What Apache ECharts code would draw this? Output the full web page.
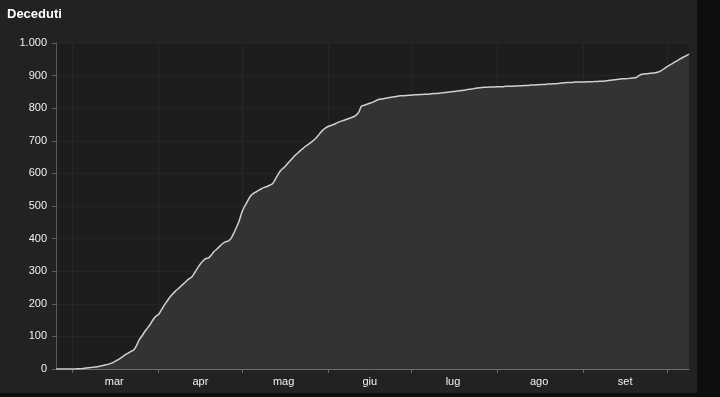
<!DOCTYPE html>
<html>
<head>
<meta charset="utf-8">
<script src="https://cdn.jsdelivr.net/npm/echarts@6/dist/echarts.min.js"></script>
<style>
html,body{margin:0;padding:0;background:#0e0e0e;}
#card{position:absolute;left:0;top:0;width:697px;height:393px;background:#222222;}
#chart{position:absolute;left:0;top:0;width:720px;height:397px;}
</style>
</head>
<body>
<div id="card"></div>
<div id="chart"></div>
<script>
const title = 'Deceduti';
const monthLabels = ['mar','apr','mag','giu','lug','ago','set'];
const startYear = 2020;
// daily cumulative deaths, starting 24 Feb 2020
const feb = [0,0,0,0,0,0];
const mar = [0,0,1,1,2,3,4,5,6,7,9,11,13,15,18,22,27,32,38,44,49,54,58,72,90,102,115,126,138,152,162];
const apr = [168,182,196,208,220,230,239,246,254,262,270,277,283,296,310,322,332,339,341,350,361,368,377,385,390,392,400,416,435,455];
const may = [482,500,515,530,538,543,548,553,557,560,564,568,582,597,610,617,626,636,645,654,662,670,677,684,690,696,703,712,722,732,739];
const jun = [744,747,750,754,758,761,764,767,770,773,778,787,806,809,812,815,818,822,826,828,829,831,833,834,835,837,838,838,839,840];
const jul = [840,841,841,842,842,843,843,844,845,845,846,847,848,849,850,851,852,853,854,855,857,858,859,861,862,863,864,864,865,865,865];
const aug = [866,866,866,867,867,867,868,868,869,869,870,870,871,871,872,872,873,873,874,874,875,875,876,877,878,879,879,879,880,880,880];
const sep = [880,881,881,881,882,882,883,883,884,885,886,887,888,889,890,890,891,892,893,894,900,904,905,906,907,908,909,911,915,921];
const oct = [927,932,937,942,947,952,957,961,966];

const monthly = [[2,24,feb],[3,1,mar],[4,1,apr],[5,1,may],[6,1,jun],[7,1,jul],[8,1,aug],[9,1,sep],[10,1,oct]];
const categories = [];
const values = [];
monthly.forEach(function(m){
  m[2].forEach(function(v,i){
    const mm = String(m[0]).padStart(2,'0');
    const dd = String(m[1]+i).padStart(2,'0');
    categories.push(startYear+'-'+mm+'-'+dd);
    values.push(v);
  });
});

const font = 'Liberation Sans, Arial, sans-serif';
const chart = echarts.init(document.getElementById('chart'), null, {renderer:'canvas'});
chart.setOption({
  backgroundColor: 'transparent',
  animation: false,
  title: {
    text: title, left: 7, top: 8, padding: 0,
    textStyle: {color:'#ffffff', fontSize:13, fontWeight:'bold', fontFamily:font}
  },
  grid: {left:56, right:31, top:43, bottom:28, show:true, backgroundColor:'#1d1d1d', borderWidth:0},
  xAxis: {
    type:'category',
    data: categories,
    boundaryGap:false,
    axisLine:{show:true, lineStyle:{color:'#6a6a6a', width:1}},
    axisTick:{show:true, length:4, interval:function(i,v){return v.slice(8)==='01';}, lineStyle:{color:'#6a6a6a'}},
    axisLabel:{
      interval:function(i,v){return v.slice(8)==='16';},
      formatter:function(v){return monthLabels[parseInt(v.slice(5,7),10)-3];},
      color:'#f0f0f0', fontSize:11, margin:7, fontFamily:font
    },
    splitLine:{show:true, interval:function(i,v){return v.slice(8)==='01';}, lineStyle:{color:'#272727', width:1}}
  },
  yAxis: {
    type:'value', min:0, max:1000, interval:100,
    axisLine:{show:true, lineStyle:{color:'#5a5a5a', width:1}},
    axisTick:{show:true, length:4, lineStyle:{color:'#5a5a5a'}},
    axisLabel:{
      color:'#f0f0f0', fontSize:11, margin:9, fontFamily:font,
      formatter:function(v){return v>=1000 ? Math.floor(v/1000)+'.'+String(v%1000).padStart(3,'0') : String(v);}
    },
    splitLine:{show:true, lineStyle:{color:'#252525', width:1}}
  },
  series: [{
    type:'line',
    data: values,
    showSymbol:false,
    smooth:0.2,
    lineStyle:{color:'#d0d0d0', width:1.5},
    areaStyle:{color:'#333333', opacity:1},
    z:3
  }]
});
</script>
</body>
</html>
